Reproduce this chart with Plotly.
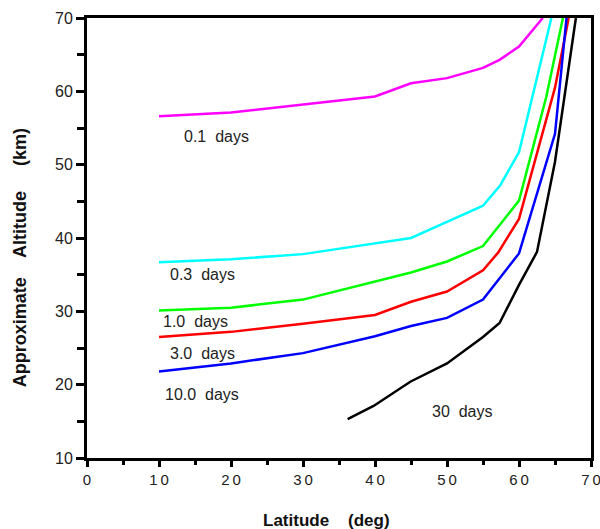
import plotly.graph_objects as go

# Latitude (deg) / approximate altitude (km) pairs for each timescale contour
lat_01 = [10, 20, 40, 45, 50, 55, 57.3, 60, 63.3]
alt_01 = [56.6, 57.1, 59.3, 61.1, 61.8, 63.2, 64.3, 66.1, 70]

lat_03 = [10, 20, 30, 40, 45, 50, 55, 57.4, 60, 64.5]
alt_03 = [36.7, 37.1, 37.8, 39.2, 40.0, 42.2, 44.4, 47.2, 51.7, 70]

lat_10 = [10, 20, 30, 40, 45, 50, 55, 60, 63.8, 66.1]
alt_10 = [30.1, 30.5, 31.6, 34.1, 35.3, 36.8, 38.9, 45.1, 59.3, 70]

lat_30 = [10, 20, 30, 40, 45, 50, 55, 57.1, 60, 65, 66.9]
alt_30 = [26.5, 27.2, 28.3, 29.5, 31.3, 32.7, 35.6, 38.0, 42.6, 60.5, 70]

lat_100 = [10, 20, 30, 40, 45, 50, 55, 60, 65, 66.6]
alt_100 = [21.8, 22.9, 24.3, 26.6, 28.0, 29.1, 31.6, 37.9, 54.2, 70]

lat_300 = [36.2, 39.8, 44.9, 50, 55, 57.3, 60, 62.5, 65, 67.9]
alt_300 = [15.3, 17.1, 20.4, 22.9, 26.5, 28.4, 33.6, 38.1, 50.4, 70]

series = [
    (lat_01, alt_01, "#ff00ff"),
    (lat_03, alt_03, "#00ffff"),
    (lat_10, alt_10, "#00ff00"),
    (lat_30, alt_30, "#ff0000"),
    (lat_100, alt_100, "#0000ff"),
    (lat_300, alt_300, "#000000"),
]

# Curve labels: text and anchor position (lat, alt)
label_text = ["0.1  days", "0.3  days", "1.0  days", "3.0  days", "10.0  days", "30  days"]
label_lat = [13.2, 11.2, 10.3, 11.2, 10.5, 47.6]
label_alt = [53.8, 35.0, 28.55, 24.3, 18.7, 16.4]

x_tickvals = [0, 10, 20, 30, 40, 50, 60, 70]
x_ticktext = ["0", "1\u20090", "2\u20090", "3\u20090", "4\u20090", "5\u20090", "6\u20090", "7\u20090"]
y_tickvals = [10, 20, 30, 40, 50, 60, 70]

FONT = "Liberation Sans, Arial, sans-serif"

fig = go.Figure()
for xs, ys, col in series:
    fig.add_trace(go.Scatter(x=xs, y=ys, mode="lines",
                             line=dict(color=col, width=2.5),
                             showlegend=False, hoverinfo="skip"))

for t, xl, yl in zip(label_text, label_lat, label_alt):
    fig.add_annotation(x=xl, y=yl, text=t, showarrow=False,
                       xanchor="left", yanchor="middle",
                       font=dict(family=FONT, size=16, color="#222"))

fig.add_annotation(xref="paper", yref="paper", x=-0.133, y=0.456,
                   text="<b>Approximate    Altitude     (km)</b>", textangle=-90,
                   showarrow=False, xanchor="center", yanchor="middle",
                   font=dict(family=FONT, size=18, color="#111"))
fig.add_annotation(xref="paper", yref="paper", x=0.476, y=-0.143,
                   text="<b>Latitude    (deg)</b>",
                   showarrow=False, xanchor="center", yanchor="middle",
                   font=dict(family=FONT, size=17, color="#111"))

fig.update_xaxes(range=[0, 70], tickvals=x_tickvals, ticktext=x_ticktext,
                 automargin=False, ticklabeloverflow="allow",
                 ticks="outside", ticklen=6, tickwidth=3, tickcolor="black",
                 showline=True, linewidth=3, linecolor="black", mirror=True,
                 showgrid=False, zeroline=False,
                 tickfont=dict(family=FONT, size=15, color="#222"),
                 minor=dict(dtick=5, tick0=0, ticks="outside", ticklen=4,
                            tickwidth=3, tickcolor="black", showgrid=False))
fig.update_yaxes(range=[10, 70], tickvals=y_tickvals,
                 automargin=False, ticklabeloverflow="allow",
                 ticks="outside", ticklen=8, tickwidth=3, tickcolor="black",
                 showline=True, linewidth=3, linecolor="black", mirror=True,
                 showgrid=False, zeroline=False,
                 tickfont=dict(family=FONT, size=16, color="#222"),
                 minor=dict(dtick=5, tick0=0, ticks="outside", ticklen=7,
                            tickwidth=3, tickcolor="black", showgrid=False))

fig.update_layout(width=600, height=529,
                  margin=dict(l=87, r=9, t=18, b=71),
                  plot_bgcolor="white", paper_bgcolor="white")

fig.write_html("out.html")
